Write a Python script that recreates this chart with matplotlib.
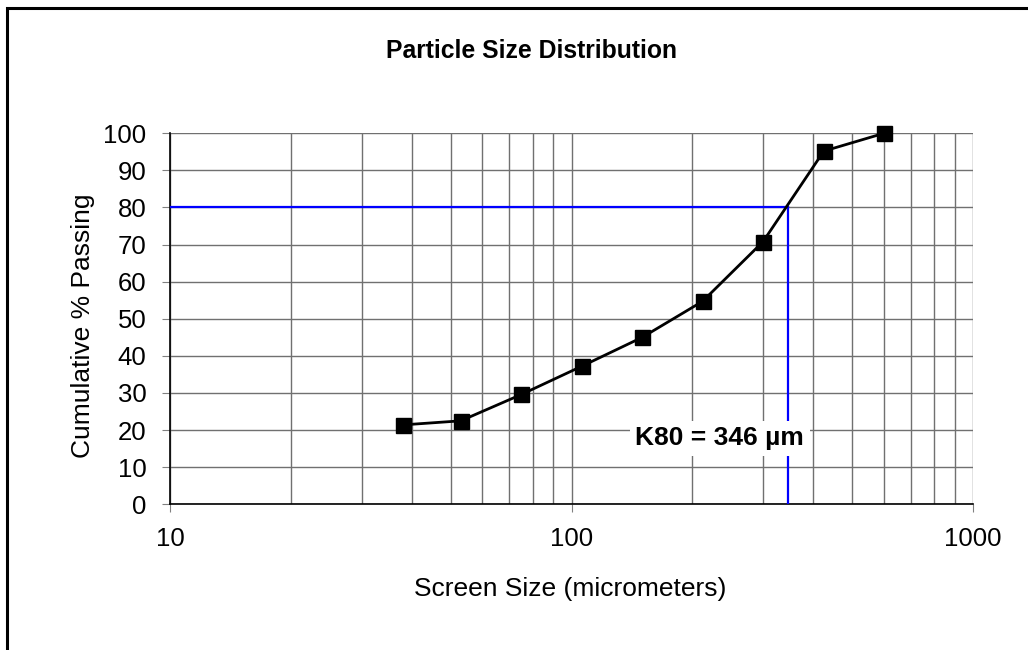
import matplotlib
matplotlib.use("Agg")
import matplotlib.pyplot as plt
from matplotlib.patches import Rectangle
from matplotlib.ticker import LogLocator, FixedLocator, NullFormatter

plt.rcParams['font.family'] = ['Liberation Sans', 'DejaVu Sans']

# sieve sizes (micrometers) and cumulative % passing
screen_size = [38, 53, 75, 106, 150, 212, 300, 425, 600]
cum_passing = [21.4, 22.5, 29.6, 37.2, 45.0, 54.7, 70.8, 95.2, 100.0]

k80_pct = 80
k80_size = 346
k80_label = "K80 = 346 µm"

x_ticks = [10, 100, 1000]
y_ticks = list(range(0, 101, 10))

W, H = 1028, 650
fig = plt.figure(figsize=(W / 100, H / 100), dpi=100)
ax = fig.add_axes([170 / W, 1 - 504.3 / H, 803 / W, 371 / H])

ax.set_xscale('log')
ax.set_xlim(10, 1000)
ax.set_ylim(0, 100)

ax.xaxis.set_major_locator(FixedLocator(x_ticks))
ax.xaxis.set_minor_locator(LogLocator(base=10, subs=range(2, 10)))
ax.xaxis.set_minor_formatter(NullFormatter())
ax.set_xticklabels([str(t) for t in x_ticks])
ax.set_yticks(y_ticks)

grid_col = '#707070'
ax.grid(True, which='major', color=grid_col, lw=1.0)
ax.grid(True, which='minor', axis='x', color=grid_col, lw=1.0)
ax.set_axisbelow(True)

for s in ['top', 'right']:
    ax.spines[s].set_visible(False)
for s in ['left', 'bottom']:
    ax.spines[s].set_color('black')
    ax.spines[s].set_linewidth(1.2)

ax.tick_params(axis='both', which='major', direction='out', length=6,
               color='#808080', labelsize=18.5)
ax.tick_params(axis='y', which='major', pad=11)
ax.tick_params(axis='x', which='major', pad=10)
ax.tick_params(axis='x', which='minor', length=0)

# K80 guide lines
ax.plot([10, k80_size], [k80_pct, k80_pct], color='#0000FF', lw=1.6, zorder=3)
ax.plot([k80_size, k80_size], [0, k80_pct], color='#0000FF', lw=1.6, zorder=3)

ax.plot(screen_size, cum_passing, color='black', lw=2, marker='s',
        markersize=10.8, markerfacecolor='black', zorder=4, clip_on=False)

ax.text(234, 17.8, k80_label, ha='center', va='center', fontsize=19,
        fontweight='bold', zorder=5,
        bbox=dict(facecolor='white', edgecolor='none', pad=4))

fig.text(570.5 / W, 1 - 596 / H, 'Screen Size (micrometers)', ha='center',
         va='baseline', fontsize=19)
fig.text(90 / W, 1 - 326 / H, 'Cumulative % Passing', ha='center',
         va='baseline', rotation=90, rotation_mode='anchor', fontsize=19)
fig.text(531.5 / W, 1 - 58 / H, 'Particle Size Distribution', ha='center',
         va='baseline', fontsize=17.8, fontweight='bold')

# outer chart frame
fig.patches.append(Rectangle((7 / W, -0.1), 1.2, 1 - 8 / H + 0.1,
                             transform=fig.transFigure, fill=False,
                             edgecolor='black', lw=2.2))

fig.savefig('out.png', dpi=100)
